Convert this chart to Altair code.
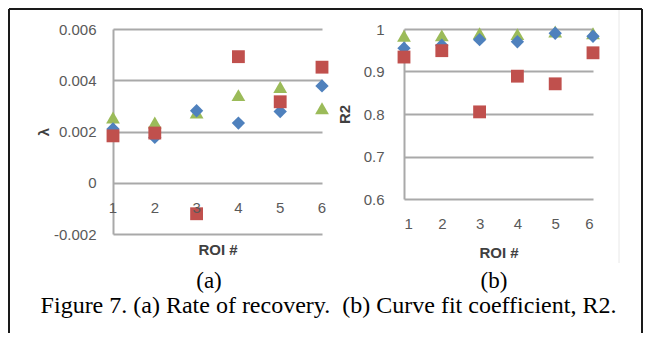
import altair as alt
import pandas as pd

# ---------------- data ----------------
roi = [1, 2, 3, 4, 5, 6]
series_names = ["Series 3", "Series 1", "Series 2"]   # drawing order: green, blue, red
series_colors = ["#9BBB59", "#4F81BD", "#C0504D"]
series_shapes = ["triangle-up", "diamond", "square"]

lam_green = [0.00255, 0.00235, 0.00274, 0.00342, 0.00374, 0.00291]
lam_blue = [0.00210, 0.00177, 0.00281, 0.00233, 0.00278, 0.00378]
lam_red = [0.00183, 0.00194, -0.00121, 0.00492, 0.00316, 0.00451]

r2_green = [0.984, 0.985, 0.990, 0.988, 0.994, 0.990]
r2_blue = [0.955, 0.962, 0.975, 0.970, 0.990, 0.983]
r2_red = [0.934, 0.949, 0.805, 0.889, 0.871, 0.944]

lam_ticks = [-0.002, 0, 0.002, 0.004, 0.006]
r2_ticks = [0.6, 0.7, 0.8, 0.9, 1.0]

x_title = "ROI #"
lam_title = "λ"
r2_title = "R2"
cap_a = "(a)"
cap_b = "(b)"
cap_fig = "Figure 7. (a) Rate of recovery. \u00a0(b) Curve fit coefficient, R2."


def long_table(green, blue, red):
    rows = []
    for name, vals in zip(series_names, [green, blue, red]):
        for r, v in zip(roi, vals):
            rows.append({"ROI": r, "series": name, "value": v})
    return pd.DataFrame(rows)


lam_df = long_table(lam_green, lam_blue, lam_red)
r2_df = long_table(r2_green, r2_blue, r2_red)
roi_df = pd.DataFrame({"ROI": roi})
one = pd.DataFrame({"k": [0]})

# ---------------- style ----------------
SANS = "Liberation Sans"
SERIF = "Liberation Serif"
LABEL_COLOR = "#595959"
TITLE_COLOR = "#404040"
GRID = "#a9a9a9"

color_enc = alt.Color("series:N", scale=alt.Scale(domain=series_names, range=series_colors), legend=None)
shape_enc = alt.Shape("series:N", scale=alt.Scale(domain=series_names, range=series_shapes), legend=None)
size_enc = alt.Size("series:N", scale=alt.Scale(domain=series_names, range=[190, 165, 150]), legend=None)

x_scale = alt.Scale(domain=[1, 6], nice=False, zero=False)
lam_scale = alt.Scale(domain=[-0.002, 0.006], nice=False, zero=False)
r2_scale = alt.Scale(domain=[0.6, 1.0], nice=False, zero=False)


def y_axis(values, expr, title, tx, ty, pad):
    return alt.Axis(values=values, labelExpr=expr, title=title, titleX=tx, titleY=ty,
                    titleAngle=270, titleAlign="center", titleBaseline="middle",
                    titleFont=SANS, titleFontSize=15, titleFontWeight="bold", titleColor=TITLE_COLOR,
                    labelFont=SANS, labelFontSize=15, labelColor=LABEL_COLOR, labelPadding=pad,
                    ticks=False, tickSize=0, domain=True, domainColor=GRID, domainWidth=2,
                    grid=True, gridColor=GRID, gridWidth=2)


def points(df, y_scale, yax, xax):
    return alt.Chart(df).mark_point(filled=True, opacity=1, strokeWidth=0).encode(
        x=alt.X("ROI:Q", scale=x_scale, axis=xax),
        y=alt.Y("value:Q", scale=y_scale, axis=yax),
        color=color_enc, shape=shape_enc, size=size_enc,
    )


def vrule(x, y1, y2, color="#1a1a1a", w=2):
    return alt.Chart(one).mark_rule(color=color, strokeWidth=w).encode(
        x=alt.value(x), y=alt.value(y1), y2=alt.value(y2))


def hrule(x1, x2, y, color="#1a1a1a", w=2):
    return alt.Chart(one).mark_rule(color=color, strokeWidth=w).encode(
        x=alt.value(x1), x2=alt.value(x2), y=alt.value(y))


def caption(text, x, y, size):
    return alt.Chart(one).mark_text(text=text, font=SERIF, fontSize=size, color="black",
                                    align="center", baseline="alphabetic").encode(
        x=alt.value(x), y=alt.value(y))


# ---------------- left panel ----------------
lam_expr = "datum.value == 0 ? '0' : (datum.value < 0 ? '-' : '') + format(abs(datum.value), '.3f')"
left_xaxis = alt.Axis(title=x_title, labels=False, ticks=False, tickSize=0, domain=False, grid=False,
                      titleFont=SANS, titleFontSize=15, titleFontWeight="bold", titleColor=TITLE_COLOR,
                      titlePadding=8)
left_yaxis = y_axis(lam_ticks, lam_expr, lam_title, -70, 102.5, 17)
left_pts = points(lam_df, lam_scale, left_yaxis, left_xaxis)
left_xlabels = alt.Chart(roi_df).mark_text(font=SANS, fontSize=15, color=LABEL_COLOR,
                                           align="center", baseline="middle").encode(
    x=alt.X("ROI:Q", scale=x_scale, axis=left_xaxis),
    y=alt.YDatum(-0.00098, scale=lam_scale, axis=left_yaxis, title=lam_title),
    text=alt.Text("ROI:Q"),
)

left = alt.layer(
    left_pts,
    left_xlabels,
    vrule(-104, -20, 304),
    hrule(-104, 529, -20),
    vrule(529, -20, 304),
    caption(cap_a, 96, 259, 23),
    caption(cap_b, 381, 259, 23),
    caption(cap_fig, 215.5, 284, 24),
).properties(width=209, height=205)

# ---------------- right panel ----------------
r2_expr = "datum.value == 1 ? '1' : format(datum.value, '.1f')"
right_xaxis = alt.Axis(title=x_title, values=roi, format="d", ticks=False, tickSize=0, domain=False, grid=False,
                       labelFont=SANS, labelFontSize=15, labelColor=LABEL_COLOR, labelPadding=17,
                       titleFont=SANS, titleFontSize=15, titleFontWeight="bold", titleColor=TITLE_COLOR,
                       titlePadding=14)
right_pts = points(r2_df, r2_scale, y_axis(r2_ticks, r2_expr, r2_title, -60, 85, 20), right_xaxis)

right = alt.layer(
    vrule(215, -19, 234, color="#e8e8e8", w=1),
    right_pts,
).properties(width=189, height=170)

chart = alt.hconcat(left, right, spacing=82, bounds="flush").properties(
    padding=0, background="white"
).configure_view(stroke=None)

chart.save("out.html", embed_options={"renderer": "svg", "actions": False})
